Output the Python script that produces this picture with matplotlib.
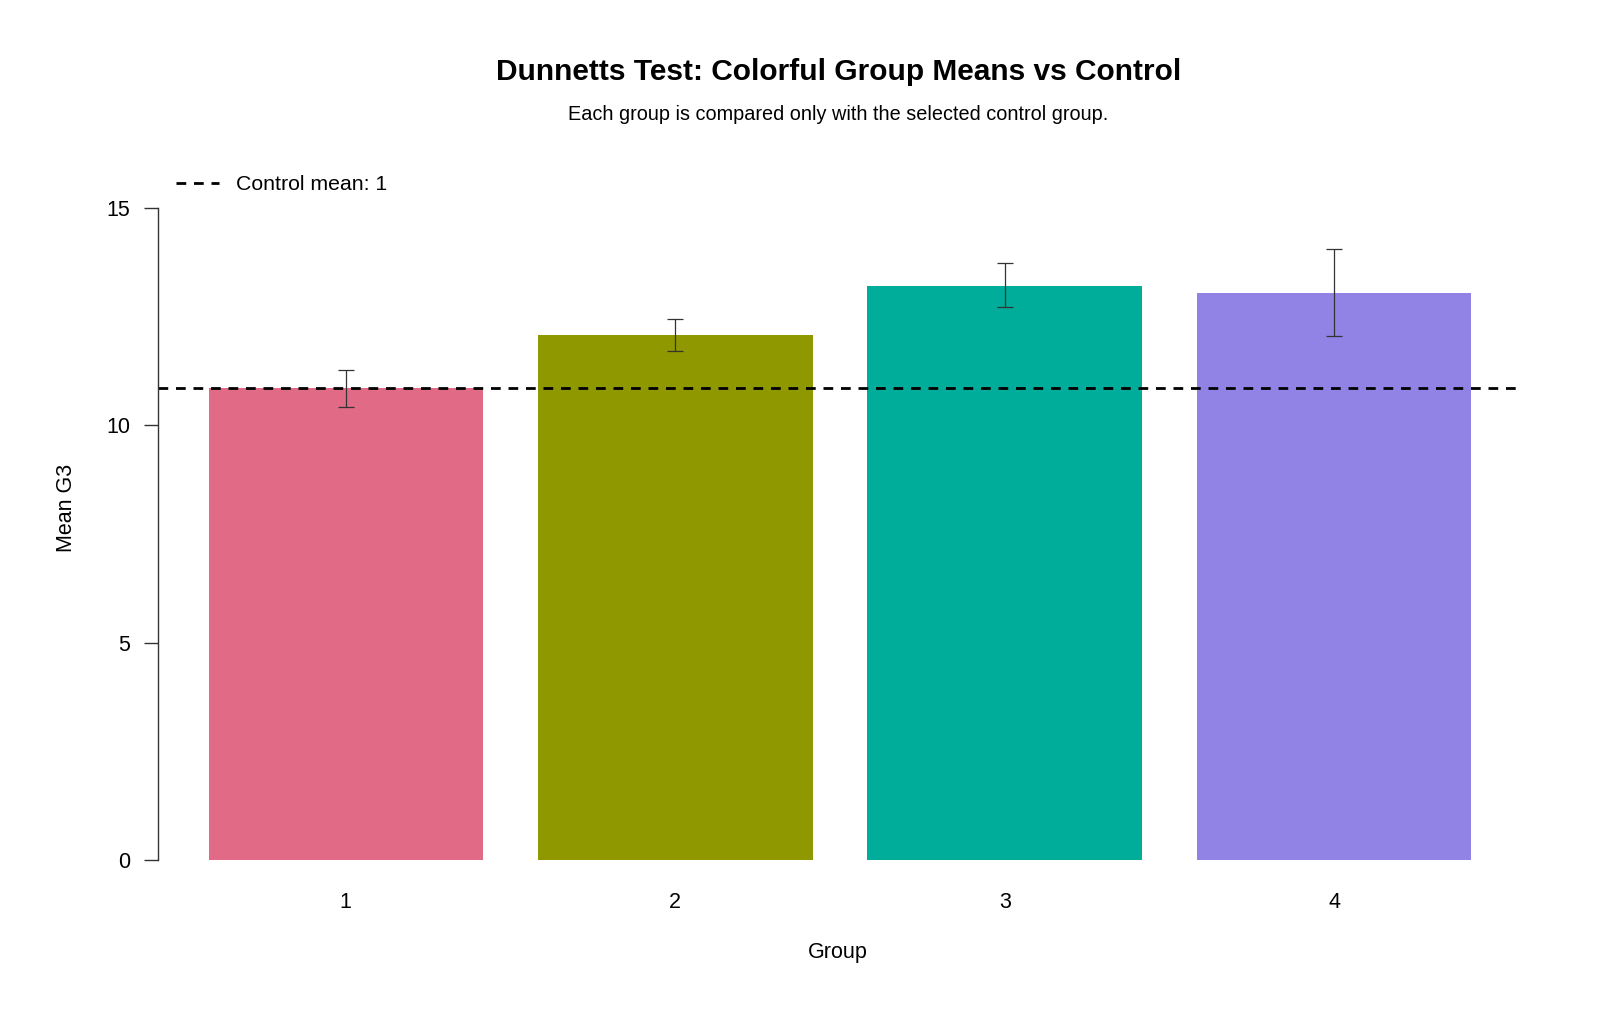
import matplotlib
matplotlib.use("Agg")
import matplotlib.pyplot as plt
import numpy as np

plt.rcParams['font.family'] = ['Liberation Sans', 'DejaVu Sans']

# data
groups = ['1', '2', '3', '4']
means = [10.85, 12.08, 13.21, 13.04]
lower = [10.41, 11.72, 12.72, 12.05]
upper = [11.27, 12.45, 13.73, 14.06]
colors = ['#E16A86', '#909800', '#00AD9A', '#9183E6']
control = groups[0]
control_mean = means[0]

fig = plt.figure(figsize=(16, 10.18), dpi=100)
ax = fig.add_axes([0.09875, 0.1277, 0.8525, 0.7466])

# R barplot style positions: width 1, space 0.2
x = 0.7 + 1.2 * np.arange(len(groups))
ax.bar(x, means, width=1.0, color=colors, edgecolor='none', zorder=1)

means_a = np.array(means)
yerr = [means_a - np.array(lower), np.array(upper) - means_a]
ax.errorbar(x, means, yerr=yerr, fmt='none', ecolor='#333333',
            elinewidth=0.9, capsize=6, capthick=0.9, zorder=3)

ax.axhline(control_mean, color='black', lw=2, dashes=(3.5, 2.8),
           label=f'Control mean: {control}', zorder=2)

ax.set_xlim(0.016, 4.984)
ax.set_ylim(-0.644, 16.84)

for s in ['top', 'right', 'bottom']:
    ax.spines[s].set_visible(False)
ax.spines['left'].set_bounds(0, 15)
ax.spines['left'].set_color('#333333')
ax.spines['left'].set_linewidth(1)

ax.set_yticks([0, 5, 10, 15])
ax.tick_params(axis='y', length=10, width=1, color='#333333', pad=10, labelsize=15.5)
ax.set_xticks(x)
ax.set_xticklabels(groups)
ax.tick_params(axis='x', length=0, pad=3, labelsize=15.5)

ax.set_xlabel('Group', fontsize=15.5)
ax.xaxis.set_label_coords(0.4985, -0.071)
ax.set_ylabel('Mean G3', fontsize=15.5)
ax.yaxis.set_label_coords(-0.0594, 0.5)

ax.legend(loc='upper left', bbox_to_anchor=(0.0132, 0.938), frameon=False,
          fontsize=15.3, handlelength=2.0, handletextpad=0.84,
          borderpad=0, borderaxespad=0)

fig.text(0.524, 1 - 72 / 1018, 'Dunnetts Test: Colorful Group Means vs Control',
         ha='center', va='center', fontsize=21.5, fontweight='bold')
fig.text(0.524, 1 - 115 / 1018, 'Each group is compared only with the selected control group.',
         ha='center', va='center', fontsize=14.3)

fig.savefig('out.png', dpi=100)
